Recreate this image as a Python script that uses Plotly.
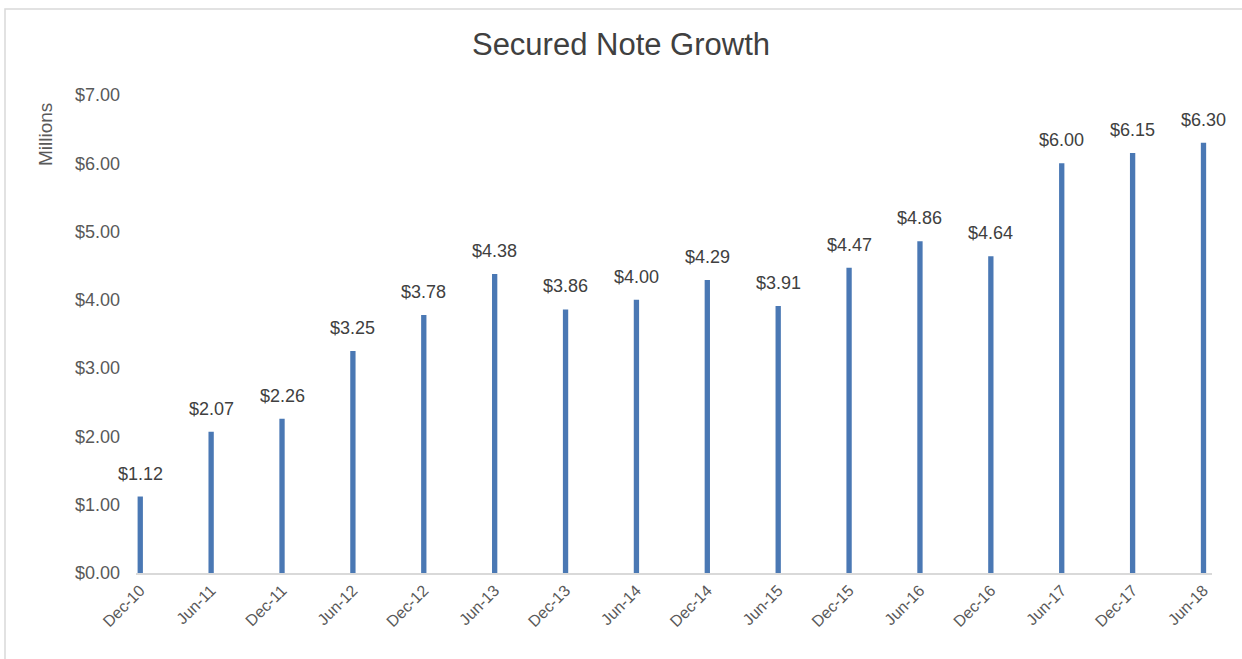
import plotly.graph_objects as go

categories = ["Dec-10", "Jun-11", "Dec-11", "Jun-12", "Dec-12", "Jun-13", "Dec-13", "Jun-14",
              "Dec-14", "Jun-15", "Dec-15", "Jun-16", "Dec-16", "Jun-17", "Dec-17", "Jun-18"]
values = [1.12, 2.07, 2.26, 3.25, 3.78, 4.38, 3.86, 4.00,
          4.29, 3.91, 4.47, 4.86, 4.64, 6.00, 6.15, 6.30]
y_ticks = [0, 1, 2, 3, 4, 5, 6, 7]

W, H = 1242, 659
ml, mr, mt, mb = 136, 30, 95, 86
pw = W - ml - mr
ph = H - mt - mb
FONT = "Liberation Sans, Arial"

fig = go.Figure()
fig.add_trace(go.Bar(
    x=list(range(len(categories))), y=values,
    width=0.075, marker=dict(color="#4a78b4", line=dict(width=0)),
    hoverinfo="y",
))

for i, v in enumerate(values):
    fig.add_annotation(x=i, y=v, text=f"${v:.2f}", showarrow=False,
                       yshift=23, font=dict(family=FONT, size=18, color="#404040"))

fig.add_annotation(xref="paper", yref="paper", x=(45 - ml) / pw, y=(H - mb - 135) / ph,
                   xanchor="center", yanchor="middle",
                   text="Millions", textangle=-90, showarrow=False,
                   font=dict(family=FONT, size=19, color="#595959"))

fig.add_shape(type="rect", xref="paper", yref="paper",
              x0=(5 - ml) / pw, x1=(W + 20 - ml) / pw,
              y0=(H - mb - (H + 20)) / ph, y1=(H - mb - 9) / ph,
              line=dict(color="#d9d9d9", width=1.5), layer="below")

fig.update_layout(
    width=W, height=H,
    margin=dict(l=ml, r=mr, t=mt, b=mb, autoexpand=False),
    paper_bgcolor="white", plot_bgcolor="white",
    showlegend=False,
    title=dict(text="Secured Note Growth", x=0.5, xanchor="center", y=(H - 44) / H, yanchor="middle",
               font=dict(family=FONT, size=31, color="#404040")),
    xaxis=dict(
        tickmode="array", tickvals=list(range(len(categories))), ticktext=categories,
        tickangle=-45, range=[-0.06, 15.12], showgrid=False, zeroline=False,
        showline=True, linecolor="#d9d9d9", linewidth=1.5, ticks="", automargin=False,
        tickfont=dict(family=FONT, size=16, color="#595959"),
    ),
    yaxis=dict(
        range=[0, 7], tickmode="array", tickvals=y_ticks, automargin=False,
        ticktext=[f"${t:.2f}" for t in y_ticks], showgrid=False, zeroline=False,
        showline=False, ticks="", ticklen=0, ticklabelstandoff=15,
        tickfont=dict(family=FONT, size=18, color="#595959"),
    ),
)

fig.write_html("out.html", config={"displayModeBar": False},
               post_script="document.body.style.margin='0';")
